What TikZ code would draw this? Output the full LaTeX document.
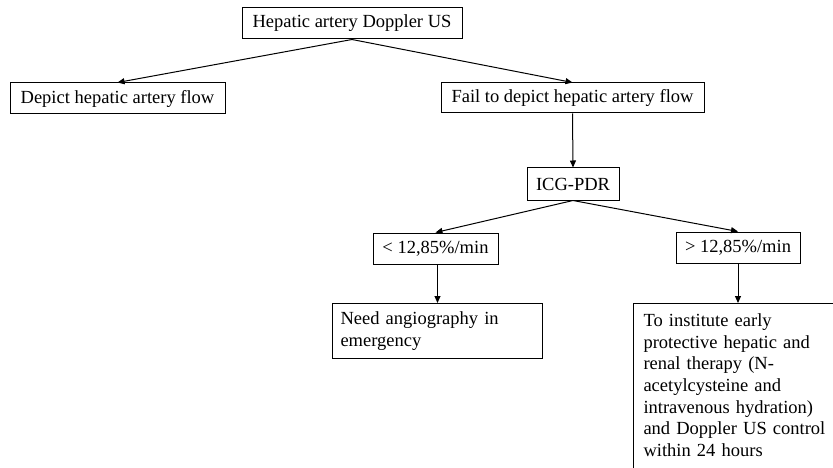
\documentclass[tikz,border=0pt]{standalone}
\usepackage{fontspec}
\setmainfont{Liberation Serif}
\usepackage{tikz}
\usetikzlibrary{arrows.meta}

\begin{document}
\begin{tikzpicture}[x=1pt, y=-1pt,
    box/.style={draw, line width=1pt, font=\fontsize{18.5}{21.7}\selectfont,
        inner sep=0pt, minimum height=31pt},
    textbox/.style={box, anchor=north west, align=left, inner xsep=8pt, inner ysep=8pt},
    arr/.style={-{Triangle[length=7pt, width=6pt]}, line width=1pt}]
\useasboundingbox (0,0) rectangle (833,468);
\clip (0,0) rectangle (833,468);
% Boxes of the decision tree
\node[box, minimum width=220pt] (doppler) at (352,23.5) {Hepatic artery Doppler US};
\node[box, minimum width=215pt] (depict) at (117.5,98.5) {Depict hepatic artery flow};
\node[box, minimum width=263pt, minimum height=30pt] (fail) at (572.5,98) {Fail to depict hepatic artery flow};
\node[box, minimum width=92pt, minimum height=32pt] (icg) at (573,184) {ICG-PDR};
\node[box, minimum width=125pt] (low) at (435.5,248.5) {< 12,85\%/min};
\node[box, minimum width=124pt] (high) at (738,247.5) {> 12,85\%/min};
\node[textbox, text width=194pt, minimum height=55pt] (angio) at (332,303)
    {Need angiography in\\emergency};
\node[textbox, draw=none, text width=200pt, inner xsep=10pt, inner ysep=10pt] (therapy) at (633,303)
    {To institute early\\protective hepatic and\\renal therapy (N-\\acetylcysteine and\\intravenous hydration)\\and Doppler US control\\within 24 hours};
% the last box runs past the lower edge
\draw[line width=1pt] (therapy.north west) rectangle ([yshift=-20pt]therapy.south east);
% Arrows
\draw[arr] (doppler.south) -- (depict.north);
\draw[arr] (doppler.south) -- (fail.north);
\draw[arr] (fail.south) -- (icg.north);
\draw[arr] (icg.south) -- (low.north);
\draw[arr] (icg.south) -- (high.north);
\draw[arr] (angio.north |- low.south) -- (angio.north);
\draw[arr] (high.south) -- (high.south |- therapy.north);
\end{tikzpicture}
\end{document}
